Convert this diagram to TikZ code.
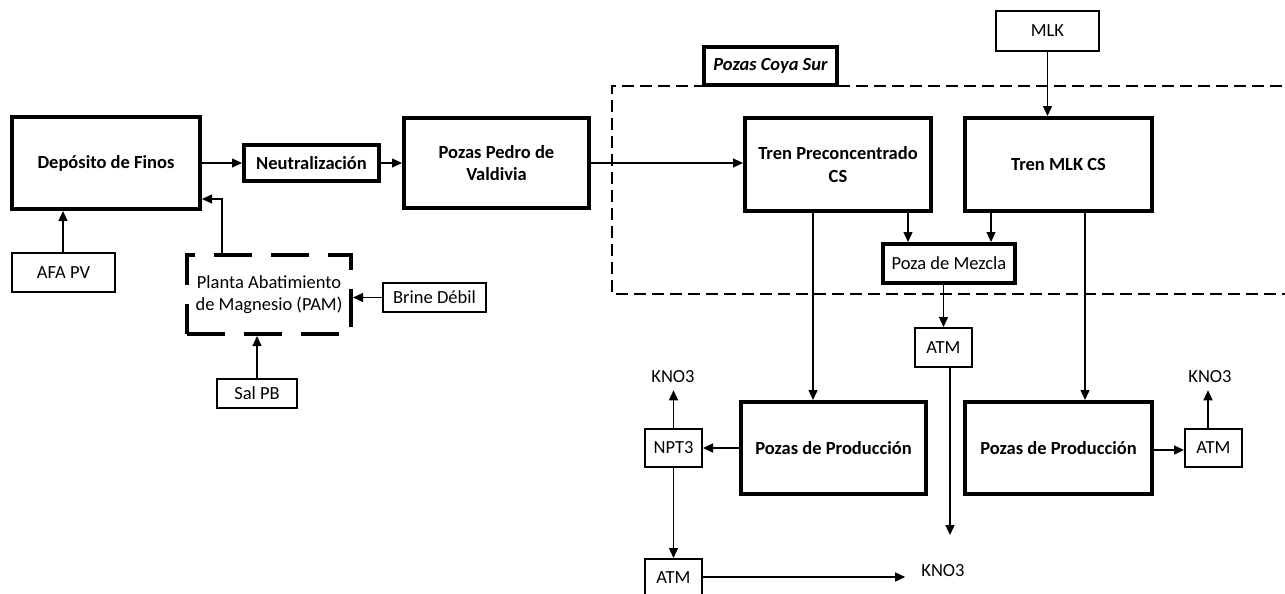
\documentclass[tikz,border=0pt]{standalone}
\usepackage{fontspec}
\setmainfont{Carlito}
\usetikzlibrary{arrows.meta}
\begin{document}
\begin{tikzpicture}[x=1pt,y=-1pt,
  every node/.style={font=\fontsize{18.5}{22.5}\selectfont, inner sep=0pt, align=center},
  thickbox/.style={draw, line width=4pt, fill=white, font=\fontsize{18.5}{22.5}\selectfont\bfseries},
  thinbox/.style={draw, line width=2pt, fill=white},
  arr/.style={line width=1.3pt, -{Triangle[length=10pt,width=9pt]}},
  plain/.style={line width=1.3pt},
  klabel/.style={inner ysep=7pt}]
\useasboundingbox (0,0) rectangle (1285,594);
\clip (0,0) rectangle (1285,594);

% Pozas Coya Sur dashed region
\draw[line width=1.5pt, dash pattern=on 12pt off 6pt] (1300,86) -- (612,86) -- (612,294) -- (1300,294);

% left part
\node[thickbox, minimum width=188pt, minimum height=92pt] (dep) at (106,163) {Depósito de Finos};
\node[thickbox, minimum width=135pt, minimum height=36pt] (neu) at (311.5,163) {Neutralización};
\node[thickbox, minimum width=185pt, minimum height=90pt] (ppv) at (496.5,163) {Pozas Pedro de\\Valdivia};
\node[thinbox, minimum width=103pt, minimum height=39pt] (afa) at (63.5,272.5) {AFA PV};
\node[draw, line width=4pt, dash pattern=on 38pt off 19pt, minimum width=164pt, minimum height=79pt] (pam) at (269,294.5) {Planta Abatimiento\\de Magnesio (PAM)};
\node[thinbox, minimum width=103pt, minimum height=29pt] (brine) at (434.5,297.5) {Brine Débil};
\node[thinbox, minimum width=80pt, minimum height=29pt] (sal) at (257,393.5) {Sal PB};

% Coya Sur
\node[thickbox, minimum width=133pt, minimum height=38pt, font=\fontsize{18.5}{22.5}\selectfont\bfseries\itshape] (pcs) at (770.5,66) {Pozas Coya Sur};
\node[thinbox, minimum width=103pt, minimum height=40pt] (mlk) at (1047.5,31) {MLK};
\node[thickbox, minimum width=186pt, minimum height=93pt] (tpc) at (838,164.5) {Tren Preconcentrado\\CS};
\node[thickbox, minimum width=187pt, minimum height=93pt] (tmlk) at (1058.5,164.5) {Tren MLK CS};
\node[draw, line width=4pt, fill=white, minimum width=132pt, minimum height=39pt] (mez) at (949,263.5) {Poza de Mezcla};
\node[thinbox, minimum width=57pt, minimum height=39pt] (atm1) at (943.5,347.5) {ATM};

% production
\node[thickbox, minimum width=185pt, minimum height=92pt] (pp1) at (833.5,448) {Pozas de Producción};
\node[thickbox, minimum width=187pt, minimum height=92pt] (pp2) at (1058.5,448) {Pozas de Producción};
\node[thinbox, minimum width=57pt, minimum height=38pt] (npt3) at (673.5,448) {NPT3};
\node[thinbox, minimum width=57pt, minimum height=38pt] (atm2) at (673.5,578) {ATM};
\node[thinbox, minimum width=57pt, minimum height=38pt] (atm3) at (1213.5,448) {ATM};
\node[klabel] (k1) at (673,377) {KNO3};
\node[klabel] (k2) at (1210,377) {KNO3};
\node (k3) at (943,571) {KNO3};
\coordinate (atmend) at (950,535);
\coordinate (fb) at (222,199);

% connectors
\draw[arr] (dep) -- (neu);
\draw[arr] (neu) -- (ppv);
\draw[arr] (ppv.east) -- (ppv.east -| tpc.west);
\draw[arr] (afa.north -| 63,0) -- (dep.south -| 63,0);
\draw[arr] (pam.north -| fb) -- (fb) -- (fb -| dep.east);
\draw[arr] (brine.west) -- (brine.west -| pam.east);
\draw[arr] (sal.north) -- (sal.north |- pam.south);

\draw[arr] (mlk.south) -- (mlk.south |- tmlk.north);
\draw[arr] ([xshift=70pt]tpc.south) -- ([xshift=70pt]tpc.south |- mez.north);
\draw[arr] ([xshift=-67.5pt]tmlk.south) -- ([xshift=-67.5pt]tmlk.south |- mez.north);
\draw[arr] (mez.south -| atm1.north) -- (atm1.north);
\draw[arr] ([xshift=6.5pt]atm1.south) -- (atmend);
\draw[arr] ([xshift=-25pt]tpc.south) -- ([xshift=-25pt]tpc.south |- pp1.north);
\draw[arr] ([xshift=26.5pt]tmlk.south) -- ([xshift=26.5pt]tmlk.south |- pp2.north);

\draw[arr] (pp1.west) -- (npt3.east);
\draw[arr] (npt3.north) -- (npt3.north |- k1.south);
\draw[arr] (npt3.south) -- (atm2.north);
\draw[arr] ([yshift=1pt]atm2.east) -- ([xshift=-16pt,yshift=1pt]k3.west |- atm2.east);
\draw[arr] ([yshift=-2pt]pp2.east) -- ([yshift=-2pt]atm3.west);
\draw[arr] ([xshift=-5.5pt]atm3.north) -- ([xshift=-5.5pt]atm3.north |- k2.south);
\end{tikzpicture}
\end{document}
